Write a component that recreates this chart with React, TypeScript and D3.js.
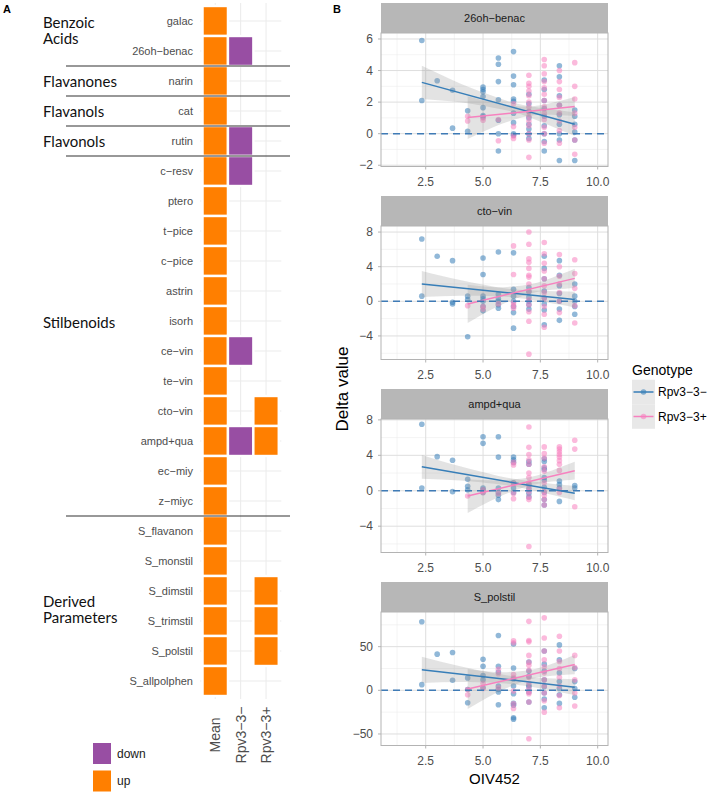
import React from "react";
import * as d3 from "d3";

// ---------------- Panel A data ----------------
const compounds = ["galac", "26oh−benac", "narin", "cat", "rutin", "c−resv", "ptero", "t−pice", "c−pice", "astrin", "isorh", "ce−vin", "te−vin", "cto−vin", "ampd+qua", "ec−miy", "z−miyc", "S_flavanon", "S_monstil", "S_dimstil", "S_trimstil", "S_polstil", "S_allpolphen"];
const columns = ["Mean", "Rpv3−3−", "Rpv3−3+"];
const meanUp = compounds;
const minusDown = ["26oh−benac", "rutin", "c−resv", "ce−vin", "ampd+qua"];
const plusUp = ["cto−vin", "ampd+qua", "S_dimstil", "S_trimstil", "S_polstil"];
const groupLabels = [["Benzoic", "Acids"], ["Flavanones"], ["Flavanols"], ["Flavonols"], ["Stilbenoids"], ["Derived", "Parameters"]];
const groupEnds = ["26oh−benac", "narin", "cat", "rutin", "z−miyc", "S_allpolphen"];
const legendA = ["down", "up"];

// ---------------- Panel B data ----------------
const genotypes = ["Rpv3−3−", "Rpv3−3+"];
const xTicks = [2.5, 5.0, 7.5, 10.0];
const xMinor = [1.25, 3.75, 6.25, 8.75];

const benacBlue = [[2.33,5.9],[2.33,2.1],[3,3.35],[3.67,2.75],[3.67,0.35],[4.33,1.45],[4.33,0.15],
[5,2.95],[5,2.8],[5,2.65],[5,2.35],[5,1.65],[5,1.15],[5,1.05],
[5.67,4.8],[5.67,4.4],[5.67,3.3],[5.67,2.15],[5.67,0.85],[5.67,0],[5.67,-1.1],
[6.33,5.2],[6.33,3.65],[6.33,3.1],[6.33,2.2],[6.33,2.05],[6.33,1.3],[6.33,0.7],[6.33,0],[6.33,-0.1],
[7,2.5],[7,1.9],[7,1.4],[7,1.0],[7,0.6],[7,0.3],[7,0],[7,-0.3],
[7.67,3.4],[7.67,2.8],[7.67,2.1],[7.67,1.6],[7.67,1.1],[7.67,0.5],[7.67,0],[7.67,-0.5],[7.67,-1.1],
[8.33,4.3],[8.33,3.6],[8.33,2.4],[8.33,1.8],[8.33,1.2],[8.33,0.6],[8.33,0],[8.33,-0.4],[8.33,-1.7],
[9,1.5],[9,1.1],[9,0.6],[9,0.1],[9,-0.4],[9,-1.7]];
const benacPink = [[4.33,1.1],[4.33,0.8],[5,1.0],[5,0.85],[5.67,0.9],[5.67,-0.45],
[6.33,1.9],[6.33,0.45],[6.33,-0.15],[6.33,-0.3],
[7,3.7],[7,3.2],[7,3.0],[7,2.7],[7,2.4],[7,2.0],[7,1.7],[7,1.4],[7,1.1],[7,0.8],[7,0.5],[7,0],[7,-0.4],[7,-1.5],
[7.67,4.7],[7.67,4.3],[7.67,3.8],[7.67,3.3],[7.67,2.9],[7.67,2.5],[7.67,2.1],[7.67,1.7],[7.67,1.3],[7.67,0.9],[7.67,0.4],[7.67,0],[7.67,-0.6],
[8.33,4.0],[8.33,3.3],[8.33,2.8],[8.33,2.3],[8.33,1.8],[8.33,1.3],[8.33,0.8],[8.33,0.2],[8.33,-0.6],
[9,4.5],[9,3.0],[9,2.2],[9,1.3],[9,0.4],[9,-0.4],[9,-1.3]];

const ctoBlue = [[2.33,7.2],[2.33,0.6],[3,5.2],[3.67,4.7],[3.67,-0.1],[3.67,-0.3],
[4.33,0.6],[4.33,0.2],[4.33,-4.1],
[5,5.0],[5,3.1],[5,0.6],[5,0.3],[5,0],[5,-0.6],[5,-1.1],
[5.67,5.7],[5.67,0.8],[5.67,0.3],[5.67,0],[5.67,-0.4],[5.67,-0.8],
[6.33,5.6],[6.33,1.4],[6.33,0.6],[6.33,0],[6.33,-0.6],[6.33,-1.3],[6.33,-3.1],
[7,1.6],[7,1.1],[7,0.5],[7,0],[7,-0.4],[7,-0.9],
[7.67,5.2],[7.67,3.8],[7.67,2.6],[7.67,1.2],[7.67,0.4],[7.67,-0.3],[7.67,-1.0],[7.67,-2.7],
[8.33,4.7],[8.33,3.0],[8.33,1.8],[8.33,0.9],[8.33,0],[8.33,-0.9],[8.33,-2.2],
[9,2.0],[9,0.6],[9,0],[9,-0.6],[9,-1.5]];
const ctoPink = [[4.33,-0.5],[5,-0.6],[5,-0.9],[5.67,-0.3],
[6.33,6.4],[6.33,3.1],[6.33,-0.2],[6.33,-0.5],[6.33,-0.8],
[7,8.0],[7,6.6],[7,4.9],[7,4.5],[7,3.8],[7,3.0],[7,2.8],[7,2.0],[7,1.2],[7,0.2],[7,-0.4],[7,-1.2],[7,-2.3],[7,-6.1],
[7.67,6.8],[7.67,5.5],[7.67,4.4],[7.67,3.5],[7.67,2.6],[7.67,1.8],[7.67,1.0],[7.67,0.3],[7.67,-0.6],[7.67,-1.5],[7.67,-3.0],
[8.33,5.4],[8.33,4.0],[8.33,2.9],[8.33,2.0],[8.33,1.0],[8.33,0],[8.33,-1.3],
[9,4.8],[9,3.2],[9,1.5],[9,-0.5],[9,-2.5]];

const ampdBlue = [[2.33,7.5],[2.33,0.3],[3,3.85],[3.67,3.45],[3.67,-0.1],
[4.33,1.3],[4.33,0.5],[4.33,0.1],
[5,6.1],[5,5.35],[5,0.3],[5,0.1],[5,-0.2],
[5.67,6.1],[5.67,3.8],[5.67,0.3],[5.67,-0.2],[5.67,-0.5],[5.67,-1.0],
[6.33,3.8],[6.33,3.5],[6.33,3.2],[6.33,0.9],[6.33,0.3],[6.33,-0.2],
[7,3.3],[7,3.0],[7,0.7],[7,0.2],[7,-0.3],[7,-0.7],
[7.67,3.6],[7.67,3.3],[7.67,2.6],[7.67,2.4],[7.67,1.5],[7.67,1.2],[7.67,0.4],[7.67,-0.2],[7.67,-1.0],[7.67,-1.6],
[8.33,1.1],[8.33,0.7],[8.33,0.3],[8.33,-1.2],
[9,0.6],[9,0.3]];
const ampdPink = [[4.33,-0.6],[5,0.1],[5,-0.2],[5.67,-0.3],
[6.33,3.2],[6.33,2.9],[6.33,0.8],[6.33,-0.3],[6.33,-0.9],
[7,7.2],[7,4.9],[7,4.1],[7,3.5],[7,3.0],[7,2.0],[7,1.5],[7,0.9],[7,0.4],[7,-0.1],[7,-0.7],[7,-1.0],[7,-6.3],
[7.67,4.95],[7.67,4.2],[7.67,3.7],[7.67,2.7],[7.67,2.2],[7.67,0.9],[7.67,-0.1],[7.67,-0.5],[7.67,-1.0],[7.67,-1.6],
[8.33,4.95],[8.33,4.7],[8.33,4.4],[8.33,4.1],[8.33,3.8],[8.33,3.4],[8.33,3.0],[8.33,2.3],[8.33,0.2],[8.33,-0.2],
[9,5.7],[9,4.7],[9,-1.8]];

const polBlue = [[2.33,78.5],[2.33,6.5],[3,41.4],[3.67,43.3],[3.67,11.5],
[4.33,14.2],[4.33,1],[4.33,-14.2],
[5,35.6],[5,27.6],[5,17],[5,12],[5,3],
[5.67,62.8],[5.67,27.6],[5.67,21],[5.67,5],[5.67,1],[5.67,-2],[5.67,-16.5],
[6.33,53],[6.33,25.6],[6.33,13],[6.33,5],[6.33,-4],[6.33,-15],[6.33,-17],[6.33,-31.4],[6.33,-33],
[7,32.5],[7,22],[7,16],[7,5.7],[7,3.8],[7,-2],[7,-13.4],
[7.67,45],[7.67,30],[7.67,22],[7.67,12],[7.67,4],[7.67,-3],[7.67,-10],[7.67,-20],
[8.33,52],[8.33,35],[8.33,20],[8.33,10],[8.33,2],[8.33,-5],[8.33,-15],
[9,25],[9,10],[9,2],[9,-8]];
const polPink = [[4.33,1],[4.33,-5],[5,8],[5,2],[5.67,24],[5.67,19],[5.67,3],
[6.33,56.7],[6.33,54.4],[6.33,18],[6.33,14.6],[6.33,-0.8],[6.33,-15.3],[6.33,-20.7],
[7,79],[7,57],[7,55.5],[7,40],[7,32],[7,28.7],[7,23],[7,15],[7,8],[7,2],[7,-2],[7,-4],[7,-13.4],[7,-55.5],
[7.67,83],[7.67,60],[7.67,45],[7.67,35],[7.67,27],[7.67,20],[7.67,12],[7.67,5],[7.67,-3],[7.67,-12],[7.67,-25],
[8.33,62],[8.33,45],[8.33,33],[8.33,25],[8.33,15],[8.33,5],[8.33,-6],[8.33,-20],
[9,40],[9,26],[9,12],[9,-3],[9,-18]];

// fitted lines (value at first and last x) and confidence half-widths at band x positions
const blueBandX = [2.33, 4.0, 5.5, 6.8, 9.0];
const pinkBandX = [4.33, 5.5, 6.5, 7.5, 9.0];
const benacBlueFit = [3.25, 0.6];
const benacBlueHalf = [1.05, 0.6, 0.36, 0.32, 0.75];
const benacPinkFit = [1.02, 1.72];
const benacPinkHalf = [1.35, 0.75, 0.4, 0.3, 0.6];
const ctoBlueFit = [2.0, 0.2];
const ctoBlueHalf = [1.5, 0.9, 0.55, 0.5, 0.9];
const ctoPinkFit = [-0.3, 2.65];
const ctoPinkHalf = [2.2, 1.2, 0.7, 0.55, 1.1];
const ampdBlueFit = [2.7, -0.27];
const ampdBlueHalf = [1.35, 0.8, 0.5, 0.45, 0.8];
const ampdPinkFit = [-0.6, 2.27];
const ampdPinkHalf = [1.9, 1.05, 0.6, 0.5, 1.0];
const polBlueFit = [23.5, 3.6];
const polBlueHalf = [15, 9, 5.5, 5, 9];
const polPinkFit = [1.5, 29.5];
const polPinkHalf = [23, 12.5, 7, 5.5, 11];

const facetNames = ["26oh−benac", "cto−vin", "ampd+qua", "S_polstil"];
const facetDomains = [[-2.08, 6.38], [-6.72, 8.7], [-6.97, 8.1], [-63.2, 89.7]];
const facetTicks = [[-2, 0, 2, 4, 6], [-4, 0, 4, 8], [-4, 0, 4, 8], [-50, 0, 50]];
const facetMinor = [[-1, 1, 3, 5], [-6, -2, 2, 6], [-6, -2, 2, 6], [-25, 25, 75]];
const facetBlue = [benacBlue, ctoBlue, ampdBlue, polBlue];
const facetPink = [benacPink, ctoPink, ampdPink, polPink];
const facetBlueFit = [benacBlueFit, ctoBlueFit, ampdBlueFit, polBlueFit];
const facetBlueHalf = [benacBlueHalf, ctoBlueHalf, ampdBlueHalf, polBlueHalf];
const facetPinkFit = [benacPinkFit, ctoPinkFit, ampdPinkFit, polPinkFit];
const facetPinkHalf = [benacPinkHalf, ctoPinkHalf, ampdPinkHalf, polPinkHalf];

// ---------------- styling ----------------
const ORANGE = "#FF7F00";
const PURPLE = "#984EA3";
const BLUE = "#377EB8";
const PINK = "#F781BF";
const FONT = "'Liberation Sans', Arial, Helvetica, sans-serif";
const GROUP_FONT = "Lato, 'Open Sans', sans-serif";
const groupLabelRow = [0.3, 2, 3, 4, 10.03, 19.6];

const PL = 381, PR = 608;
const stripTops = [3, 196, 389, 582];
const STRIP_H = 30, PANEL_H = 133.5;

function fmtTick(v: number, isX: boolean) {
  const s = isX ? d3.format(".1f")(v) : String(v);
  return s.replace("-", "−");
}

function bandData(xs: number[], fit: number[], half: number[]) {
  const x0 = xs[0], x1 = xs[xs.length - 1];
  return xs.map((x, i) => {
    const f = fit[0] + (fit[1] - fit[0]) * (x - x0) / (x1 - x0);
    return { x, fit: f, lo: f - half[i], hi: f + half[i] };
  });
}

function Facet({ i }: { i: number }) {
  const top = stripTops[i] + STRIP_H;
  const bottom = top + PANEL_H;
  const x = d3.scaleLinear().domain([0.55, 10.45]).range([PL, PR]);
  const y = d3.scaleLinear().domain(facetDomains[i]).range([bottom, top]);
  const area = d3.area<any>().x(d => x(d.x)).y0(d => y(d.lo)).y1(d => y(d.hi)).curve(d3.curveNatural);
  const line = d3.line<any>().x(d => x(d.x)).y(d => y(d.fit));
  const bb = bandData(blueBandX, facetBlueFit[i], facetBlueHalf[i]);
  const pb = bandData(pinkBandX, facetPinkFit[i], facetPinkHalf[i]);
  const cid = `clip${i}`;
  return (
    <g>
      <defs>
        <clipPath id={cid}><rect x={PL} y={top} width={PR - PL} height={PANEL_H} /></clipPath>
      </defs>
      <rect x={PL} y={stripTops[i]} width={PR - PL} height={STRIP_H} fill="#b7b7b7" />
      <text x={(PL + PR) / 2} y={stripTops[i] + STRIP_H / 2} textAnchor="middle" dominantBaseline="central" fontSize={11} fill="#1a1a1a">{facetNames[i]}</text>
      <rect x={PL} y={top} width={PR - PL} height={PANEL_H} fill="#fff" />
      <g clipPath={`url(#${cid})`}>
        {facetMinor[i].map(t => <line key={"ym" + t} x1={PL} x2={PR} y1={y(t)} y2={y(t)} stroke="#ededed" strokeWidth={0.6} />)}
        {xMinor.map(t => <line key={"xm" + t} x1={x(t)} x2={x(t)} y1={top} y2={bottom} stroke="#ededed" strokeWidth={0.6} />)}
        {facetTicks[i].map(t => <line key={"yM" + t} x1={PL} x2={PR} y1={y(t)} y2={y(t)} stroke="#dedede" strokeWidth={1} />)}
        {xTicks.map(t => <line key={"xM" + t} x1={x(t)} x2={x(t)} y1={top} y2={bottom} stroke="#dedede" strokeWidth={1} />)}
        {facetBlue[i].map((d, k) => <circle key={"b" + k} cx={x(d[0])} cy={y(d[1])} r={2.8} fill={BLUE} fillOpacity={0.55} />)}
        {facetPink[i].map((d, k) => <circle key={"p" + k} cx={x(d[0])} cy={y(d[1])} r={2.8} fill={PINK} fillOpacity={0.55} />)}
        <path d={area(bb) || ""} fill="#999" fillOpacity={0.28} />
        <path d={area(pb) || ""} fill="#999" fillOpacity={0.28} />
        <path d={line([bb[0], bb[bb.length - 1]]) || ""} fill="none" stroke={BLUE} strokeWidth={1.5} />
        <path d={line([pb[0], pb[pb.length - 1]]) || ""} fill="none" stroke={PINK} strokeWidth={1.5} />
        <line x1={PL} x2={PR} y1={y(0)} y2={y(0)} stroke="#3f7bb6" strokeWidth={1.4} strokeDasharray="7,5" />
      </g>
      <rect x={PL} y={top} width={PR - PL} height={PANEL_H} fill="none" stroke="#b3b3b3" strokeWidth={1} />
      {facetTicks[i].map(t => (
        <g key={"yt" + t}>
          <line x1={PL - 3} x2={PL} y1={y(t)} y2={y(t)} stroke="#b3b3b3" />
          <text x={PL - 8} y={y(t)} textAnchor="end" dominantBaseline="central" fontSize={12} fill="#4d4d4d">{fmtTick(t, false)}</text>
        </g>
      ))}
      {xTicks.map(t => (
        <g key={"xt" + t}>
          <line x1={x(t)} x2={x(t)} y1={bottom} y2={bottom + 3} stroke="#b3b3b3" />
          <text x={x(t)} y={bottom + 19.5} textAnchor="middle" fontSize={12} fill="#4d4d4d">{fmtTick(t, true)}</text>
        </g>
      ))}
    </g>
  );
}

export default function App() {
  const yA = d3.scalePoint<string>().domain(compounds).range([3, 699]).padding(0.6);
  const xA = d3.scalePoint<string>().domain(columns).range([200, 281.3]).padding(0.6);
  const sy = yA.step(), sx = xA.step();
  const tiles: { c: string; r: string; dir: string }[] = [];
  meanUp.forEach(r => tiles.push({ c: columns[0], r, dir: "up" }));
  minusDown.forEach(r => tiles.push({ c: columns[1], r, dir: "down" }));
  plusUp.forEach(r => tiles.push({ c: columns[2], r, dir: "up" }));
  const color = d3.scaleOrdinal<string, string>().domain(legendA).range([PURPLE, ORANGE]);

  return (
    <div style={{ position: "absolute", left: 0, top: 0 }}>
      <svg width={708} height={794} style={{ display: "block", fontFamily: FONT }}>
        <rect width={708} height={794} fill="#fff" />
        {/* Panel A */}
        <text x={3} y={13} fontSize={11} fontWeight="bold">A</text>
        {columns.map(c => <line key={c} x1={xA(c)} x2={xA(c)} y1={3} y2={699} stroke="#ebebeb" strokeWidth={1} />)}
        {compounds.map(r => <line key={r} x1={200} x2={281.3} y1={yA(r)} y2={yA(r)} stroke="#ebebeb" strokeWidth={1} />)}
        {tiles.map((t, k) => (
          <rect key={k} x={(xA(t.c) as number) - sx / 2} y={(yA(t.r) as number) - sy / 2} width={sx} height={sy}
            fill={color(t.dir)} stroke="#fff" strokeWidth={2.4} />
        ))}
        {compounds.map(r => (
          <text key={r} x={193} y={yA(r)} textAnchor="end" dominantBaseline="central" fontSize={11} fill="#4d4d4d">{r}</text>
        ))}
        {groupEnds.slice(0, -1).map(r => (
          <line key={r} x1={66} x2={290} y1={(yA(r) as number) + sy / 2} y2={(yA(r) as number) + sy / 2} stroke="#333" strokeWidth={1.1} />
        ))}
        {groupLabels.map((lines, k) => {
          const cy = 21 + groupLabelRow[k] * sy;
          const lh = 16.5;
          const y0 = cy - (lines.length - 1) * lh / 2;
          return (
            <text key={k} x={43} fontSize={15} fontFamily={GROUP_FONT} fill="#111">
              {lines.map((s, j) => <tspan key={j} x={43} y={y0 + j * lh} dominantBaseline="central">{s}</tspan>)}
            </text>
          );
        })}
        {columns.map(c => (
          <text key={c} transform={`translate(${xA(c)},735) rotate(-90)`} textAnchor="middle" dominantBaseline="central" fontSize={14} fill="#4d4d4d">{c}</text>
        ))}
        {legendA.map((l, k) => (
          <g key={l}>
            <rect x={93} y={743 + k * 27.5} width={18} height={21} fill={color(l)} />
            <text x={117} y={753.5 + k * 27.5} dominantBaseline="central" fontSize={12} fill="#1a1a1a">{l}</text>
          </g>
        ))}

        {/* Panel B */}
        <text x={333} y={13} fontSize={11} fontWeight="bold">B</text>
        {facetNames.map((_, i) => <Facet key={i} i={i} />)}
        <text transform="translate(342,389) rotate(-90)" textAnchor="middle" dominantBaseline="central" fontSize={17} fill="#000">Delta value</text>
        <text x={494.5} y={784} textAnchor="middle" fontSize={15} fill="#000">OIV452</text>
        <text x={632} y={370} dominantBaseline="central" fontSize={14} fill="#000">Genotype</text>
        {genotypes.map((g, k) => {
          const cy = 392 + k * 24.5;
          const col = k === 0 ? BLUE : PINK;
          return (
            <g key={g}>
              <rect x={632} y={cy - 12.25} width={23} height={24.5} fill="#e8e8e8" />
              <line x1={633.5} x2={653.5} y1={cy} y2={cy} stroke={col} strokeWidth={1.5} />
              <circle cx={643.5} cy={cy} r={2.8} fill={col} fillOpacity={0.6} />
              <text x={658} y={cy} dominantBaseline="central" fontSize={12} fill="#000">{g}</text>
            </g>
          );
        })}
      </svg>
    </div>
  );
}
